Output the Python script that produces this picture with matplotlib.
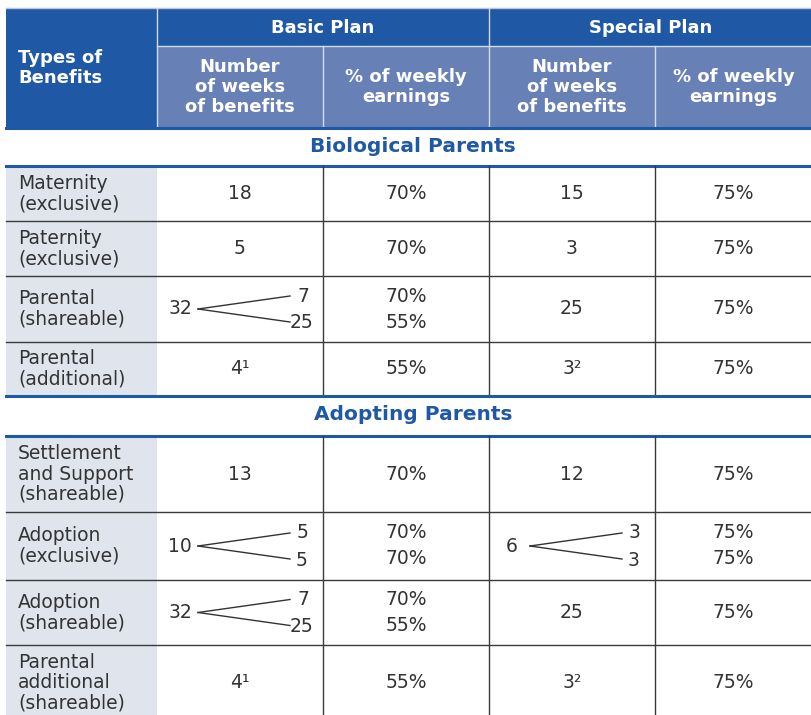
import matplotlib.pyplot as plt
from matplotlib.patches import Rectangle

# table content
plans = ["Basic Plan", "Special Plan"]
sub_headers = ["Number\nof weeks\nof benefits", "% of weekly\nearnings"]
sections = ["Biological Parents", "Adopting Parents"]

bio_labels = ["Maternity\n(exclusive)", "Paternity\n(exclusive)",
              "Parental\n(shareable)", "Parental\n(additional)"]
bio_basic_weeks = ["18", "5", ("32", "7", "25"), "4\u00b9"]
bio_basic_pct = ["70%", "70%", ("70%", "55%"), "55%"]
bio_special_weeks = ["15", "3", "25", "3\u00b2"]
bio_special_pct = ["75%", "75%", "75%", "75%"]

adopt_labels = ["Settlement\nand Support\n(shareable)", "Adoption\n(exclusive)",
                "Adoption\n(shareable)", "Parental\nadditional\n(shareable)"]
adopt_basic_weeks = ["13", ("10", "5", "5"), ("32", "7", "25"), "4\u00b9"]
adopt_basic_pct = ["70%", ("70%", "70%"), ("70%", "55%"), "55%"]
adopt_special_weeks = ["12", ("6", "3", "3"), "25", "3\u00b2"]
adopt_special_pct = ["75%", ("75%", "75%"), "75%", "75%"]

dark_blue = "#1f58a5"
mid_blue = "#6780b6"
gray_col = "#e0e4ed"
txt = "#333333"
plt.rcParams['font.family'] = ['DejaVu Sans']
FS = 13.5
HFS = 13

fig = plt.figure(figsize=(8.12, 7.15), dpi=100)
ax = fig.add_axes([0, 0, 1, 1])
ax.set_xlim(0, 812)
ax.set_ylim(715, 0)
ax.axis('off')

xs = [6, 157, 323, 489, 655, 812]
top, mid, hbot = 8, 46, 127

# header
ax.add_patch(Rectangle((xs[0], top), xs[-1] - xs[0], hbot - top, color=dark_blue, lw=0))
for i in range(1, 5):
    ax.add_patch(Rectangle((xs[i], mid), xs[i + 1] - xs[i], hbot - mid, color=mid_blue, lw=0))
ax.plot([xs[0], xs[-1]], [top, top], color="#b9c6de", lw=1)
ax.plot([xs[1], xs[-1]], [mid, mid], color="#d5dcec", lw=1)
for x in [157, 489]:
    ax.plot([x, x], [top, hbot], color="#d5dcec", lw=1)
for x in [323, 655]:
    ax.plot([x, x], [mid, hbot], color="#d5dcec", lw=1)
ax.text(18, 68, "Types of\nBenefits", color="white", fontsize=HFS, fontweight="bold",
        ha="left", va="center", linespacing=1.2)
for j, p in enumerate(plans):
    ax.text((xs[1 + 2 * j] + xs[3 + 2 * j]) / 2, 28, p, color="white", fontsize=HFS,
            fontweight="bold", ha="center", va="center")
    for k, s in enumerate(sub_headers):
        c = 1 + 2 * j + k
        ax.text((xs[c] + xs[c + 1]) / 2, 87, s, color="white", fontsize=HFS,
                fontweight="bold", ha="center", va="center", linespacing=1.15)


def fork(xc, y, vals):
    total, a, b = vals
    x0 = xc - 60
    ax.text(x0, y, total, ha="center", va="center", fontsize=FS, color=txt)
    ax.plot([x0 + 18, x0 + 110], [y, y - 13], color=txt, lw=1)
    ax.plot([x0 + 18, x0 + 110], [y, y + 13], color=txt, lw=1)
    ax.text(x0 + 123, y - 13, a, ha="center", va="center", fontsize=FS, color=txt)
    ax.text(x0 + 122, y + 14, b, ha="center", va="center", fontsize=FS, color=txt)


def cell(c, y0, y1, v):
    xc = (xs[c] + xs[c + 1]) / 2
    yc = (y0 + y1) / 2
    if isinstance(v, tuple) and len(v) == 3:
        fork(xc, yc, v)
    elif isinstance(v, tuple):
        ax.text(xc, yc - 13, v[0], ha="center", va="center", fontsize=FS, color=txt)
        ax.text(xc, yc + 13, v[1], ha="center", va="center", fontsize=FS, color=txt)
    else:
        ax.text(xc, yc, v, ha="center", va="center", fontsize=FS, color=txt)


def section(y0, title, bounds, labels, cols):
    ax.plot([xs[0], xs[-1]], [y0, y0], color=dark_blue, lw=2.2)
    ax.text(413, y0 + 19, title, color=dark_blue, fontsize=14.5, fontweight="bold",
            ha="center", va="center")
    ax.plot([xs[0], xs[-1]], [bounds[0], bounds[0]], color=dark_blue, lw=2.2)
    for r, lab in enumerate(labels):
        ya, yb = bounds[r], bounds[r + 1]
        ax.add_patch(Rectangle((xs[0], ya), xs[1] - xs[0], yb - ya, color=gray_col, lw=0, zorder=0))
        ax.text(18, (ya + yb) / 2, lab, ha="left", va="center", fontsize=FS, color=txt,
                linespacing=1.1)
        for c, col in enumerate(cols):
            cell(c + 1, ya, yb, col[r])
        if r > 0:
            ax.plot([xs[0], xs[-1]], [ya, ya], color="#3a3a3a", lw=1)
    for x in xs[2:5]:
        ax.plot([x, x], [bounds[0], bounds[-1]], color="#3a3a3a", lw=1)


section(128, sections[0], [166, 221, 276, 342, 396], bio_labels,
        [bio_basic_weeks, bio_basic_pct, bio_special_weeks, bio_special_pct])
section(396, sections[1], [436, 512, 580, 645, 720], adopt_labels,
        [adopt_basic_weeks, adopt_basic_pct, adopt_special_weeks, adopt_special_pct])

fig.savefig("out.png", dpi=100)
